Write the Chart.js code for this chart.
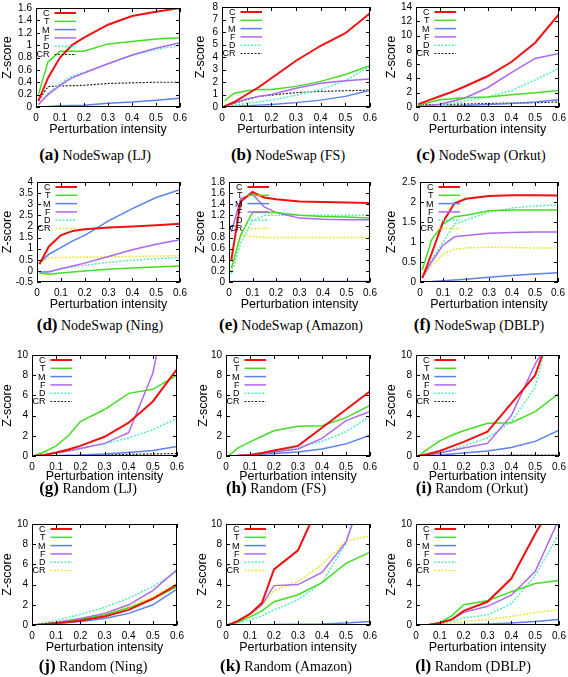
<!DOCTYPE html>
<html><head><meta charset="utf-8">
<script src="https://cdn.jsdelivr.net/npm/chart.js@4/dist/chart.umd.min.js"></script>
<style>
html,body{margin:0;padding:0;background:#fff;}
#wrap{position:relative;width:568px;height:677px;overflow:hidden;background:#fff;}
canvas{position:absolute;}
.cap{position:absolute;font-family:"Liberation Serif","Times New Roman",serif;font-size:14px;white-space:nowrap;transform:translate(-50%,-50%);line-height:1;color:#000;}
.cap b{font-size:17px;}
</style></head><body><div id="wrap"></div>
<script>
// ---------------- data ----------------
const X_INTENSITY = [0.01, 0.05, 0.1, 0.15, 0.2, 0.3, 0.4, 0.5, 0.6];
const X_TICKS = [0, 0.1, 0.2, 0.3, 0.4, 0.5, 0.6];
const SERIES = ['C', 'T', 'M', 'F', 'D', 'CR'];

const NS_LJ = {
  C:  [0.1, 0.47, 0.8, 1.0, 1.12, 1.33, 1.47, 1.54, 1.6],
  T:  [0.2, 0.73, 0.9, 0.9, 0.9, 1.02, 1.06, 1.1, 1.12],
  M:  [0.0, 0.01, 0.02, 0.025, 0.03, 0.06, 0.08, 0.11, 0.14],
  F:  [0.04, 0.2, 0.35, 0.47, 0.55, 0.7, 0.84, 0.95, 1.04],
  D:  [0.04, 0.22, 0.38, 0.5, 0.56, 0.7, 0.83, 0.93, 1.0],
  CR: [0.1, 0.33, 0.34, 0.345, 0.35, 0.38, 0.39, 0.4, 0.4]
};
const NS_FS = {
  C:  [0.05, 0.4, 1.0, 1.6, 2.3, 3.7, 4.9, 5.9, 7.5],
  T:  [0.5, 1.1, 1.3, 1.4, 1.4, 1.65, 2.05, 2.6, 3.3],
  M:  [0.02, 0.05, 0.1, 0.15, 0.2, 0.35, 0.55, 0.85, 1.35],
  F:  [0.05, 0.35, 0.65, 0.85, 1.0, 1.5, 1.9, 2.1, 2.25],
  D:  [0.02, 0.15, 0.3, 0.42, 0.55, 0.95, 1.4, 2.1, 3.25],
  CR: [0.05, 0.3, 0.6, 0.85, 0.95, 1.15, 1.25, 1.3, 1.35]
};
const NS_ORKUT = {
  C:  [0.4, 0.9, 1.5, 2.1, 2.8, 4.3, 6.3, 9.0, 13.0],
  T:  [0.3, 0.6, 1.0, 1.15, 1.3, 1.4, 1.7, 2.0, 2.3],
  M:  [0.02, 0.05, 0.08, 0.14, 0.2, 0.35, 0.5, 0.7, 1.0],
  F:  [0.1, 0.2, 0.4, 0.8, 1.2, 2.7, 4.8, 6.8, 7.5],
  D:  [0.05, 0.15, 0.3, 0.55, 0.8, 1.4, 2.3, 3.8, 5.4],
  CR: [0.3, 0.32, 0.35, 0.38, 0.4, 0.5, 0.55, 0.6, 0.7]
};
const NS_NING = {
  C:  [0.3, 1.1, 1.6, 1.8, 1.87, 1.95, 2.0, 2.05, 2.12],
  T:  [-0.1, -0.15, -0.1, -0.05, 0.0, 0.07, 0.13, 0.18, 0.22],
  M:  [0.35, 0.75, 1.05, 1.35, 1.6, 2.25, 2.8, 3.3, 3.65],
  F:  [-0.05, -0.05, 0.1, 0.22, 0.35, 0.65, 0.95, 1.2, 1.4],
  D:  [-0.05, -0.02, 0.1, 0.18, 0.25, 0.38, 0.48, 0.55, 0.6],
  CR: [0.3, 0.6, 0.6, 0.61, 0.62, 0.63, 0.65, 0.67, 0.68]
};
const NS_AMAZON = {
  C:  [0.4, 1.45, 1.62, 1.52, 1.49, 1.45, 1.44, 1.43, 1.42],
  T:  [0.25, 0.85, 1.25, 1.25, 1.25, 1.2, 1.18, 1.17, 1.15],
  M:  [0.01, 0.01, 0.01, 0.01, 0.01, 0.01, 0.01, 0.01, 0.01],
  F:  [0.9, 1.5, 1.58, 1.35, 1.25, 1.15, 1.13, 1.12, 1.12],
  D:  [0.15, 0.7, 1.1, 1.2, 1.2, 1.2, 1.2, 1.2, 1.2],
  CR: [0.2, 0.85, 0.82, 0.8, 0.8, 0.8, 0.8, 0.8, 0.8]
};
const NS_DBLP = {
  C:  [0.1, 0.7, 1.5, 1.97, 2.08, 2.15, 2.17, 2.17, 2.16],
  T:  [0.3, 1.05, 1.45, 1.63, 1.67, 1.78, 1.8, 1.8, 1.8],
  M:  [0.0, 0.01, 0.03, 0.05, 0.07, 0.12, 0.16, 0.2, 0.23],
  F:  [0.1, 0.5, 0.92, 1.13, 1.16, 1.22, 1.24, 1.25, 1.25],
  D:  [0.1, 0.55, 1.0, 1.45, 1.55, 1.75, 1.85, 1.9, 1.93],
  CR: [0.1, 0.4, 0.7, 0.82, 0.85, 0.87, 0.86, 0.85, 0.85]
};
const RND_LJ = {
  C:  [0, 0.1, 0.35, 0.65, 1.0, 1.9, 3.3, 5.4, 8.6],
  T:  [0.05, 0.4, 1.0, 2.0, 3.4, 4.6, 6.2, 6.6, 8.0],
  M:  [0, 0.02, 0.05, 0.08, 0.1, 0.2, 0.35, 0.55, 0.95],
  F:  [0, 0.1, 0.3, 0.5, 0.75, 1.25, 2.3, 8.2, 20],
  D:  [0, 0.1, 0.3, 0.5, 0.75, 1.2, 1.8, 2.6, 3.75],
  CR: [0, 0.01, 0.02, 0.04, 0.05, 0.1, 0.15, 0.2, 0.25]
};
const RND_FS = {
  C:  [0, 0.03, 0.1, 0.3, 0.55, 1.0, 2.8, 4.6, 6.4],
  T:  [0, 0.8, 1.4, 1.95, 2.5, 2.95, 3.0, 3.8, 5.0],
  M:  [0, 0.05, 0.1, 0.17, 0.25, 0.4, 0.7, 1.2, 2.05],
  F:  [0, 0.03, 0.1, 0.25, 0.4, 0.7, 1.75, 3.5, 4.4],
  D:  [0, 0.05, 0.15, 0.33, 0.5, 0.85, 1.45, 2.4, 3.95],
  CR: [0, 0, 0.01, 0.01, 0.02, 0.03, 0.04, 0.05, 0.05]
};
const RND_ORKUT = {
  C:  [0, 0.2, 0.5, 0.95, 1.4, 2.4, 5.2, 8.0, 14.7],
  T:  [0, 0.7, 1.5, 2.05, 2.5, 3.25, 3.3, 4.4, 6.2],
  M:  [0, 0.05, 0.1, 0.2, 0.3, 0.5, 0.85, 1.45, 2.55],
  F:  [0, 0.1, 0.3, 0.55, 0.8, 1.25, 4.0, 9.1, 13],
  D:  [0, 0.15, 0.35, 0.65, 1.0, 1.8, 3.4, 6.8, 16],
  CR: [0, 0.01, 0.02, 0.03, 0.04, 0.06, 0.08, 0.1, 0.1]
};
const RND_NING = {
  C:  [0, 0.08, 0.2, 0.3, 0.45, 0.85, 1.5, 2.6, 4.0],
  T:  [0, 0.08, 0.2, 0.35, 0.55, 1.0, 1.7, 2.6, 3.8],
  M:  [0, 0.05, 0.15, 0.25, 0.35, 0.65, 1.15, 2.0, 3.55],
  F:  [0, 0.1, 0.25, 0.45, 0.65, 1.15, 2.0, 3.4, 5.5],
  D:  [0, 0.2, 0.45, 0.75, 1.05, 1.75, 2.65, 3.8, 5.3],
  CR: [0, 0.1, 0.25, 0.45, 0.65, 1.1, 1.8, 2.8, 4.1]
};
const RND_AMAZON = {
  C:  [0, 0.4, 1.1, 2.2, 5.5, 7.4, 12.6, 16, 20],
  T:  [0, 0.3, 0.8, 1.4, 2.3, 3.0, 4.2, 6.1, 7.2],
  M:  [0, 0.01, 0.02, 0.03, 0.05, 0.07, 0.1, 0.2, 0.35],
  F:  [0, 0.4, 1.1, 2.0, 3.9, 4.0, 5.2, 8.2, 15],
  D:  [0, 0.2, 0.5, 0.9, 1.5, 2.5, 4.2, 8.1, 17],
  CR: [0, 0.35, 1.0, 1.9, 3.4, 4.3, 6.0, 8.3, 8.85]
};
const RND_DBLP = {
  C:  [0, 0, 0.2, 0.55, 1.4, 2.3, 4.6, 9.0, 13],
  T:  [0, 0, 0.25, 0.9, 2.0, 2.4, 3.3, 4.1, 4.4],
  M:  [0, 0.01, 0.02, 0.03, 0.05, 0.1, 0.2, 0.35, 0.55],
  F:  [0, 0, 0.2, 0.55, 1.25, 1.85, 2.95, 5.3, 10.5],
  D:  [0, 0, 0.1, 0.35, 0.7, 1.0, 2.1, 4.9, 9.0],
  CR: [0, 0.02, 0.1, 0.2, 0.35, 0.55, 0.85, 1.25, 1.5]
};

const Y_TICKS_A = [0, 0.2, 0.4, 0.6, 0.8, 1, 1.2, 1.4, 1.6];
const Y_TICKS_B = [0, 1, 2, 3, 4, 5, 6, 7, 8];
const Y_TICKS_C = [0, 2, 4, 6, 8, 10, 12, 14];
const Y_TICKS_D = [-0.5, 0, 0.5, 1, 1.5, 2, 2.5, 3, 3.5, 4];
const Y_TICKS_E = [0, 0.2, 0.4, 0.6, 0.8, 1, 1.2, 1.4, 1.6, 1.8];
const Y_TICKS_F = [0, 0.5, 1, 1.5, 2, 2.5];
const Y_TICKS_R = [0, 2, 4, 6, 8, 10];

const CAPTION_TAGS = ['(a)', '(b)', '(c)', '(d)', '(e)', '(f)', '(g)', '(h)', '(i)', '(j)', '(k)', '(l)'];
const CAPTION_TEXTS = ['NodeSwap (LJ)', 'NodeSwap (FS)', 'NodeSwap (Orkut)', 'NodeSwap (Ning)', 'NodeSwap (Amazon)', 'NodeSwap (DBLP)',
  'Random (LJ)', 'Random (FS)', 'Random (Orkut)', 'Random (Ning)', 'Random (Amazon)', 'Random (DBLP)'];
const PANEL_DATA = [NS_LJ, NS_FS, NS_ORKUT, NS_NING, NS_AMAZON, NS_DBLP, RND_LJ, RND_FS, RND_ORKUT, RND_NING, RND_AMAZON, RND_DBLP];
const PANEL_YTICKS = [Y_TICKS_A, Y_TICKS_B, Y_TICKS_C, Y_TICKS_D, Y_TICKS_E, Y_TICKS_F, Y_TICKS_R, Y_TICKS_R, Y_TICKS_R, Y_TICKS_R, Y_TICKS_R, Y_TICKS_R];

// ---------------- layout & style ----------------
// L,R,T,B = plot box; ty = y-title centre x; xt = x-title offset below plot; cx,cy = caption centre
const LAYOUT = [
  {L:36, R:180, T:6,   B:107, ty:7,   xt:23, cx:95,  cy:154},
  {L:222,R:370, T:5,   B:107, ty:200, xt:23, cx:288, cy:154},
  {L:416,R:559, T:5,   B:107, ty:391, xt:23, cx:481, cy:154},
  {L:37, R:180, T:180, B:282, ty:7,   xt:23, cx:100, cy:324},
  {L:229,R:370, T:180, B:282, ty:200, xt:23, cx:291, cy:324},
  {L:420,R:558, T:180, B:282, ty:391, xt:23, cx:479, cy:324},
  {L:32, R:177, T:353, B:456, ty:7,   xt:21, cx:88,  cy:487},
  {L:226,R:370, T:353, B:456, ty:203, xt:21, cx:276, cy:487},
  {L:416,R:559, T:353, B:456, ty:391, xt:21, cx:472, cy:487},
  {L:32, R:177, T:522, B:625, ty:7,   xt:23, cx:93,  cy:665},
  {L:226,R:370, T:522, B:625, ty:202, xt:23, cx:286, cy:665},
  {L:416,R:559, T:522, B:625, ty:391, xt:23, cx:473, cy:665}
];
const CR_YELLOW = [false, false, false, true, true, true, false, false, false, true, true, true];
const STYLE = {
  C:  {color:'#f01010', width:2,   dash:[]},
  T:  {color:'#44dd22', width:1.5, dash:[]},
  M:  {color:'#5a80ea', width:1.5, dash:[]},
  F:  {color:'#b066f0', width:1.5, dash:[]},
  D:  {color:'#55eebb', width:1.5, dash:[2,1.5]},
  CR: {color:'#222222', width:1.2, dash:[2,1.5]}
};
const CR_Y_STYLE = {color:'#e8e830', width:1.5, dash:[2,1.5]};

Chart.defaults.font.family = '"Liberation Sans", Arial, sans-serif';
Chart.defaults.color = '#000';

const fmt = v => String(Math.round(v * 100) / 100);

const framePlugin = {
  id: 'gnuframe',
  afterDatasetsDraw(chart) {
    const {ctx, chartArea: a} = chart;
    ctx.save();
    ctx.setLineDash([]);
    ctx.strokeStyle = '#000';
    ctx.lineWidth = 1;
    // inward ticks
    const xs = chart.scales.x, ys = chart.scales.y;
    ctx.beginPath();
    xs.ticks.forEach(t => {
      const px = Math.round(xs.getPixelForValue(t.value)) + 0.5;
      ctx.moveTo(px, a.bottom); ctx.lineTo(px, a.bottom - 4);
      ctx.moveTo(px, a.top); ctx.lineTo(px, a.top + 4);
    });
    ys.ticks.forEach(t => {
      const py = Math.round(ys.getPixelForValue(t.value)) + 0.5;
      ctx.moveTo(a.left, py); ctx.lineTo(a.left + 4, py);
      ctx.moveTo(a.right, py); ctx.lineTo(a.right - 4, py);
    });
    ctx.stroke();
    ctx.strokeRect(a.left + 0.5, a.top + 0.5, a.right - a.left - 1, a.bottom - a.top - 1);
    // gnuplot-style key
    chart.data.datasets.forEach((ds, i) => {
      const y = a.top + 5 + i * 8.3;
      ctx.setLineDash([]);
      ctx.font = '9px "Liberation Sans", Arial, sans-serif';
      ctx.textAlign = 'right';
      ctx.textBaseline = 'middle';
      ctx.fillStyle = '#000';
      ctx.fillText(ds.label, a.left + 13.5, y + 0.5);
      ctx.strokeStyle = ds.borderColor;
      ctx.lineWidth = ds.borderWidth;
      ctx.setLineDash(ds.borderDash || []);
      ctx.beginPath();
      ctx.moveTo(a.left + 18.5, y);
      ctx.lineTo(a.left + 40, y);
      ctx.stroke();
    });
    ctx.restore();
  }
};

const wrap = document.getElementById('wrap');

LAYOUT.forEach((p, k) => {
  const cl = Math.round(p.ty - 7);
  const ct = p.T - 8;
  const cr = p.R + 12;
  const xh = Math.round(p.xt + 7);
  const cb = p.B + xh;
  const cv = document.createElement('canvas');
  cv.width = cr - cl;
  cv.height = cb - ct;
  cv.style.left = cl + 'px';
  cv.style.top = ct + 'px';
  cv.style.width = (cr - cl) + 'px';
  cv.style.height = (cb - ct) + 'px';
  wrap.appendChild(cv);

  const data = PANEL_DATA[k];
  const yt = PANEL_YTICKS[k];
  const datasets = SERIES.map(s => {
    const st = (s === 'CR' && CR_YELLOW[k]) ? CR_Y_STYLE : STYLE[s];
    return {
      label: s,
      data: X_INTENSITY.map((x, j) => ({x: x, y: data[s][j]})),
      borderColor: st.color,
      borderWidth: st.width,
      borderDash: st.dash,
      pointRadius: 0,
      tension: 0,
      fill: false
    };
  });
  new Chart(cv, {
    type: 'line',
    data: {datasets},
    options: {
      responsive: false,
      animation: false,
      devicePixelRatio: 1,
      layout: {padding: {top: 8, right: 12, left: 0, bottom: 0}},
      plugins: {legend: {display: false}, tooltip: {enabled: false}},
      scales: {
        x: {
          type: 'linear', min: 0, max: 0.6,
          afterBuildTicks: s => { s.ticks = X_TICKS.map(v => ({value: v})); },
          afterFit: s => { s.height = xh; },
          grid: {display: false, drawTicks: false},
          border: {display: false},
          ticks: {padding: 5, font: {size: 10}, color: '#000', maxRotation: 0, autoSkip: false, callback: v => fmt(v)},
          title: {display: true, text: 'Perturbation intensity', font: {size: 12.5}, color: '#000', padding: 0}
        },
        y: {
          type: 'linear', min: yt[0], max: yt[yt.length - 1],
          afterBuildTicks: s => { s.ticks = yt.map(v => ({value: v})); },
          afterFit: s => { s.width = p.L - cl; },
          grid: {display: false, drawTicks: false},
          border: {display: false},
          ticks: {padding: 4, font: {size: 10}, color: '#000', autoSkip: false, callback: v => fmt(v)},
          title: {display: true, text: 'Z-score', font: {size: 12.5}, color: '#000', padding: 0}
        }
      }
    },
    plugins: [framePlugin]
  });

  const cap = document.createElement('div');
  cap.className = 'cap';
  cap.style.left = p.cx + 'px';
  cap.style.top = p.cy + 'px';
  const b = document.createElement('b');
  b.textContent = CAPTION_TAGS[k];
  cap.appendChild(b);
  cap.appendChild(document.createTextNode(' ' + CAPTION_TEXTS[k]));
  wrap.appendChild(cap);
});
</script></body></html>
